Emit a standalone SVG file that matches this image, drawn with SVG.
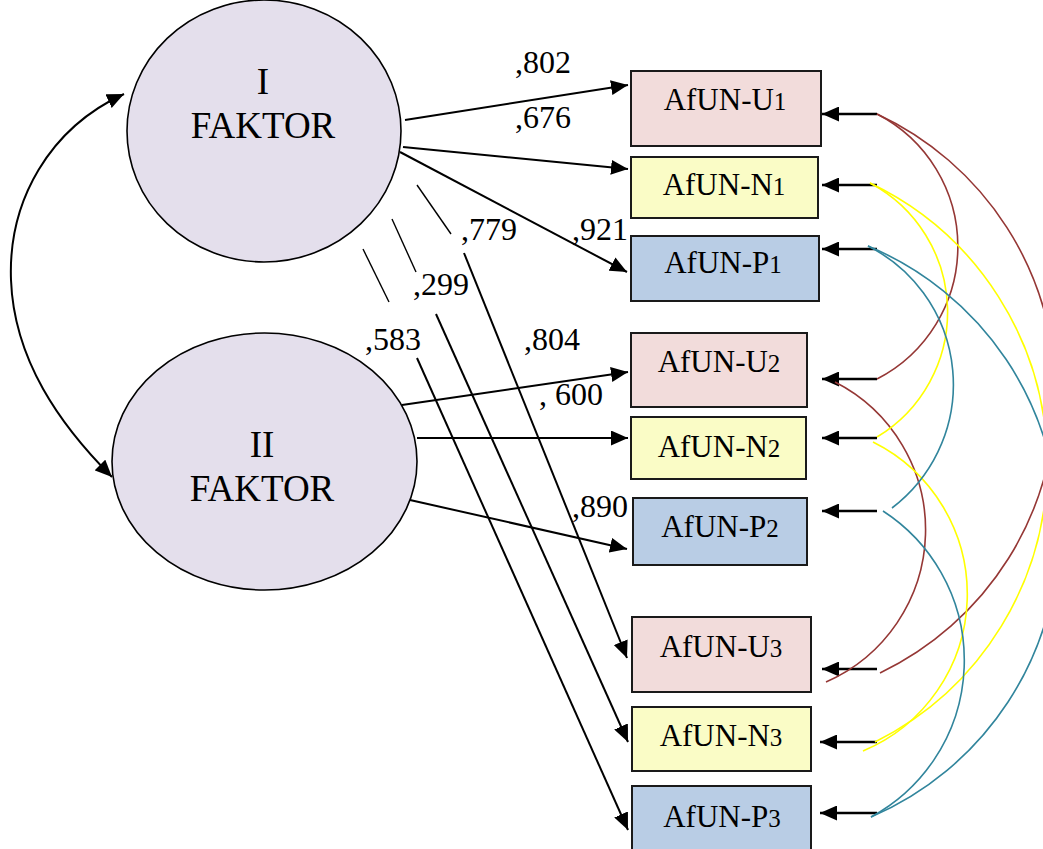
<svg xmlns="http://www.w3.org/2000/svg" width="1043" height="849" viewBox="0 0 1043 849">
  <style>
    .factor { fill: #E4DFEC; stroke: #000; stroke-width: 1.6; }
    .box { stroke: #1a1a1a; stroke-width: 2; }
    .u { fill: #F2DCDB; }
    .n { fill: #FAFCC6; }
    .p { fill: #B9CDE5; }
    .ftxt { font-family: "Liberation Serif", "Times New Roman", serif; font-size: 37px; fill: #000; text-anchor: middle; }
    .btxt { font-family: "Liberation Serif", "Times New Roman", serif; font-size: 31px; fill: #000; text-anchor: middle; }
    .sub { font-size: 25px; }
    .lbl { font-family: "Liberation Serif", "Times New Roman", serif; font-size: 32px; fill: #000; }
    .load { stroke: #000; stroke-width: 2; fill: none; }
    .thin { stroke: #000; stroke-width: 1.4; fill: none; }
    .err { stroke: #000; stroke-width: 2.6; fill: none; }
    .cov { fill: none; stroke-width: 1.6; }
    .brown { stroke: #953735; }
    .yellow { stroke: #FFFF00; }
    .teal { stroke: #31859C; }
  </style>
  <defs>
    <marker id="ah" markerUnits="userSpaceOnUse" markerWidth="17" markerHeight="15" refX="17" refY="7.5" orient="auto">
      <path d="M0,0 L17,7.5 L0,15 z" fill="#000"/>
    </marker>
    <marker id="ah2" markerUnits="userSpaceOnUse" markerWidth="17" markerHeight="15" refX="17" refY="7.5" orient="auto-start-reverse">
      <path d="M0,0 L17,7.5 L0,15 z" fill="#000"/>
    </marker>
  </defs>

  <rect width="1043" height="849" fill="#fff"/>

  <!-- latent factors -->
  <g id="factor1">
    <ellipse class="factor" cx="264" cy="131" rx="137" ry="131"/>
    <text class="ftxt" x="263" y="94">I</text>
    <text class="ftxt" x="263" y="138">FAKTOR</text>
  </g>
  <g id="factor2">
    <ellipse class="factor" cx="264.5" cy="461.5" rx="152.5" ry="128.5"/>
    <text class="ftxt" x="262" y="457">II</text>
    <text class="ftxt" x="262" y="501">FAKTOR</text>
  </g>

  <!-- observed indicators -->
  <g id="afun-u1"><rect class="box u" x="631" y="71" width="190" height="75"/><text class="btxt" x="725" y="110">AfUN-U<tspan class="sub">1</tspan></text></g>
  <g id="afun-n1"><rect class="box n" x="631" y="157" width="187" height="61"/><text class="btxt" x="724" y="195">AfUN-N<tspan class="sub">1</tspan></text></g>
  <g id="afun-p1"><rect class="box p" x="631" y="236" width="188" height="65"/><text class="btxt" x="723" y="273">AfUN-P<tspan class="sub">1</tspan></text></g>
  <g id="afun-u2"><rect class="box u" x="631" y="333" width="176" height="74"/><text class="btxt" x="719" y="372">AfUN-U<tspan class="sub">2</tspan></text></g>
  <g id="afun-n2"><rect class="box n" x="631" y="417" width="175" height="62"/><text class="btxt" x="719" y="457">AfUN-N<tspan class="sub">2</tspan></text></g>
  <g id="afun-p2"><rect class="box p" x="633" y="498" width="174" height="67"/><text class="btxt" x="720" y="537">AfUN-P<tspan class="sub">2</tspan></text></g>
  <g id="afun-u3"><rect class="box u" x="632" y="617" width="179" height="75"/><text class="btxt" x="721" y="657">AfUN-U<tspan class="sub">3</tspan></text></g>
  <g id="afun-n3"><rect class="box n" x="632" y="707" width="179" height="64"/><text class="btxt" x="721" y="746">AfUN-N<tspan class="sub">3</tspan></text></g>
  <g id="afun-p3"><rect class="box p" x="632" y="786" width="179" height="70"/><text class="btxt" x="722" y="827">AfUN-P<tspan class="sub">3</tspan></text></g>

  <g id="connectors">
    <!-- factor correlation -->
    <path class="load" marker-start="url(#ah2)" marker-end="url(#ah2)" d="M124,94 C50,128 8,200 11,280 C14,360 60,425 112,477"/>

    <!-- loadings of factor I -->
    <line class="load" x1="405" y1="120" x2="628" y2="85" marker-end="url(#ah)"/>
    <line class="load" x1="403" y1="147" x2="628" y2="169" marker-end="url(#ah)"/>
    <line class="load" x1="400" y1="152" x2="627" y2="272" marker-end="url(#ah)"/>
    <line class="thin" x1="417" y1="185" x2="451" y2="234"/>
    <line class="load" x1="464" y1="253" x2="627" y2="658" marker-end="url(#ah)"/>
    <line class="thin" x1="392" y1="219" x2="416" y2="272"/>
    <line class="load" x1="436" y1="314" x2="628" y2="742" marker-end="url(#ah)"/>
    <line class="thin" x1="363" y1="249" x2="389" y2="302"/>
    <line class="load" x1="417" y1="358" x2="628" y2="830" marker-end="url(#ah)"/>

    <!-- loadings of factor II -->
    <line class="load" x1="402" y1="405" x2="628" y2="372" marker-end="url(#ah)"/>
    <line class="load" x1="417" y1="438" x2="628" y2="438" marker-end="url(#ah)"/>
    <line class="load" x1="410" y1="500" x2="627" y2="549" marker-end="url(#ah)"/>

    <!-- error terms -->
    <line class="err" x1="877" y1="114" x2="822" y2="114" marker-end="url(#ah)"/>
    <line class="err" x1="877" y1="185" x2="822" y2="185" marker-end="url(#ah)"/>
    <line class="err" x1="877" y1="249" x2="822" y2="249" marker-end="url(#ah)"/>
    <line class="err" x1="877" y1="379" x2="822" y2="379" marker-end="url(#ah)"/>
    <line class="err" x1="877" y1="438" x2="822" y2="438" marker-end="url(#ah)"/>
    <line class="err" x1="877" y1="511" x2="822" y2="511" marker-end="url(#ah)"/>
    <line class="err" x1="877" y1="669" x2="822" y2="669" marker-end="url(#ah)"/>
    <line class="err" x1="877" y1="742" x2="820" y2="742" marker-end="url(#ah)"/>
    <line class="err" x1="877" y1="813" x2="820" y2="813" marker-end="url(#ah)"/>

    <!-- error covariances -->
    <path class="cov brown" d="M877,114 A149,149 0 0,1 877,379"/>
    <path class="cov brown" d="M877,114 A309,309 0 0,1 880,673"/>
    <path class="cov brown" d="M835,382 A166,166 0 0,1 826,682"/>
    <path class="cov yellow" d="M870,183 A146,146 0 0,1 877,437"/>
    <path class="cov yellow" d="M870,183 A311,311 0 0,1 875,742"/>
    <path class="cov yellow" d="M873,442 A170,170 0 0,1 863,751"/>
    <path class="cov teal" d="M868,246 A155,155 0 0,1 892,508"/>
    <path class="cov teal" d="M868,246 A310,310 0 0,1 871,817"/>
    <path class="cov teal" d="M883,511 A178,178 0 0,1 871,817"/>
  </g>

  <!-- loading values -->
  <g id="labels">
    <text class="lbl" x="515" y="73">,802</text>
    <text class="lbl" x="515" y="128">,676</text>
    <text class="lbl" x="461" y="240">,779</text>
    <text class="lbl" x="572" y="240">,921</text>
    <text class="lbl" x="413" y="295">,299</text>
    <text class="lbl" x="365" y="350">,583</text>
    <text class="lbl" x="524" y="350">,804</text>
    <text class="lbl" x="539" y="405">, 600</text>
    <text class="lbl" x="572" y="517">,890</text>
  </g>
</svg>
